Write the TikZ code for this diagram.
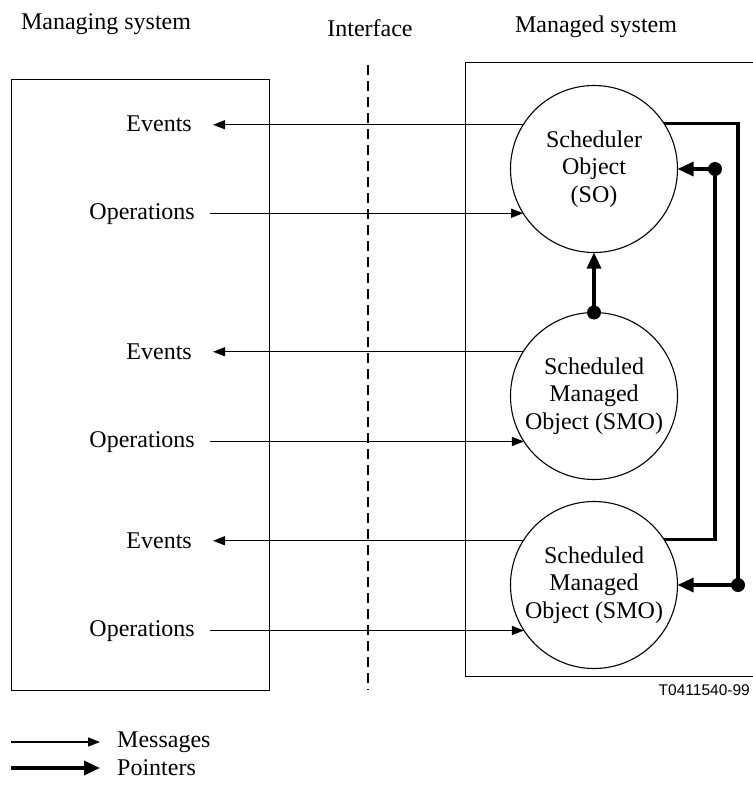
\documentclass[tikz,border=0pt]{standalone}
\usepackage{fontspec}
\setmainfont{Liberation Serif}
\newfontfamily\labelsans{Liberation Sans}
\usetikzlibrary{arrows.meta}
\begin{document}
\begin{tikzpicture}[x=1pt,y=-1pt,
  txt/.style={font=\fontsize{24}{27.5}\selectfont, inner sep=0pt},
  obj/.style={draw, circle, line width=1.1pt, minimum size=167pt, inner sep=0pt, outer sep=0pt,
    align=center, font=\fontsize{24}{27.5}\selectfont},
  boxline/.style={line width=1pt},
  msg/.style={line width=1.3pt, -{Triangle[length=12pt,width=9pt]}},
  ptrline/.style={line width=3.2pt},
  ptr/.style={line width=3.2pt, -{Triangle[length=16pt,width=14pt]}},
  dotmark/.style={fill=black}
]
\useasboundingbox (0,0) rectangle (752,792);

% titles
\node[txt] (t1) at (106,24) {Managing system};
\node[txt] (t2) at (370,28) {Interface};
\node[txt] (t3) at (596,27) {Managed system};

% boxes
\draw[boxline] (11,79) rectangle (269,690);
\draw[boxline] (755,63) -- (465,63) -- (465,676) -- (755,676);

% interface line
\draw[line width=1.7pt, dash pattern=on 10pt off 6pt] (368,65) -- (368,690);

% objects
\node[obj] (so) at (594,169) {Scheduler\\Object\\(SO)};
\node[obj] (smo1) at (594,396) {Scheduled\\Managed\\Object (SMO)};
\node[obj] (smo2) at (594,585) {Scheduled\\Managed\\Object (SMO)};

% message ends
\coordinate (evx) at (213,0);
\coordinate (opx) at (210,0);

% labels
\node[txt, anchor=east] (ev1) at (192,124) {Events};
\node[txt, anchor=east] (op1) at (195,214) {Operations};
\node[txt, anchor=east] (ev2) at (192,352) {Events};
\node[txt, anchor=east] (op2) at (195,442) {Operations};
\node[txt, anchor=east] (ev3) at (192,541) {Events};
\node[txt, anchor=east] (op3) at (195,631) {Operations};

% messages
\draw[msg] (so.148) -- (so.148 -| evx);
\draw[msg] (so.212 -| opx) -- (so.212);
\draw[msg] (smo1.148) -- (smo1.148 -| evx);
\draw[msg] (smo1.213 -| opx) -- (smo1.213);
\draw[msg] (smo2.148) -- (smo2.148 -| evx);
\draw[msg] (smo2.213 -| opx) -- (smo2.213);

% pointers
\coordinate (dA) at (738,585);
\coordinate (dB) at (715,169);
\draw[ptrline] (so.33) -| (dA);
\draw[ptr] (dA) -- (smo2.east);
\fill[dotmark] (dA) circle (7pt);
\draw[ptrline] (smo2.33) -| (dB);
\draw[ptr] (dB) -- (so.east);
\fill[dotmark] (dB) circle (7pt);
\draw[ptr] (smo1.north) -- (so.south);
\fill[dotmark] (smo1.north) circle (7pt);

% figure id
\node[font=\labelsans\fontsize{15.5}{18}\selectfont, anchor=east, inner sep=0pt] (fid) at (750,690) {T0411540-99};

% legend
\coordinate (m1) at (11,742);
\coordinate (m2) at (100,742);
\draw[msg] (m1) -- (m2);
\node[txt, anchor=west] (lm) at (117,742) {Messages};
\coordinate (p1) at (11,768);
\coordinate (p2) at (100,768);
\draw[ptr] (p1) -- (p2);
\node[txt, anchor=west] (lp) at (117,768) {Pointers};
\end{tikzpicture}
\end{document}
